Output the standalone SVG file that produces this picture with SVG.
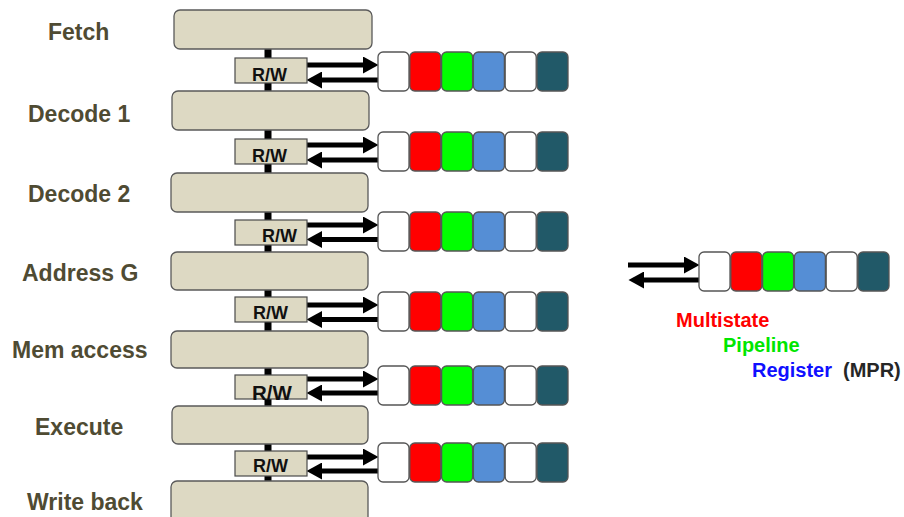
<svg xmlns="http://www.w3.org/2000/svg" width="904" height="517" viewBox="0 0 904 517">
<style>
.stage{fill:#DDD9C3;stroke:#5a5a5a;stroke-width:1.3}
.rw{fill:#DDD9C3;stroke:#4a4a4a;stroke-width:1.2}
.rwt{font-family:"Liberation Sans",Arial,sans-serif;font-weight:bold;font-size:18px;fill:#111}
.lbl{font-family:"Liberation Sans",Arial,sans-serif;font-weight:bold;font-size:23px;fill:#4F4B33}
.bar{fill:#000}
.c{stroke:#555;stroke-width:1.3}
.w{fill:#fff}.r{fill:#FF0000}.g{fill:#00FF00}.b{fill:#558ED5}.d{fill:#215968}
.arr{stroke:#000;stroke-width:5;fill:none;marker-end:url(#ah)}
.leg{font-family:"Liberation Sans",Arial,sans-serif;font-weight:bold;font-size:20px}
</style>
<defs>
<marker id="ah" markerUnits="userSpaceOnUse" markerWidth="16" markerHeight="17" refX="2" refY="8.5" orient="auto" viewBox="0 0 16 17">
<path d="M0,0 L15.5,8.5 L0,17 z" fill="#000"/>
</marker>
<g id="cells">
<rect class="c w" x="0" y="0" width="31" height="39" rx="5"/>
<rect class="c r" x="31.8" y="0" width="31" height="39" rx="5"/>
<rect class="c g" x="63.6" y="0" width="31" height="39" rx="5"/>
<rect class="c b" x="95.4" y="0" width="31" height="39" rx="5"/>
<rect class="c w" x="127.2" y="0" width="31" height="39" rx="5"/>
<rect class="c d" x="159" y="0" width="31" height="39" rx="5"/>
</g>
</defs>
<rect width="904" height="517" fill="#fff"/>

<g id="connectors">
<rect class="bar" x="264.5" y="49" width="7" height="42"/>
<rect class="bar" x="264.5" y="130" width="7" height="43"/>
<rect class="bar" x="264.5" y="212" width="7" height="40"/>
<rect class="bar" x="264.5" y="290" width="7" height="41"/>
<rect class="bar" x="264.5" y="368" width="7" height="38"/>
<rect class="bar" x="264.5" y="444" width="7" height="37"/>
<line class="arr" x1="307" y1="65" x2="365" y2="65"/>
<line class="arr" x1="378" y1="80" x2="320" y2="80"/>
<line class="arr" x1="307" y1="145" x2="365" y2="145"/>
<line class="arr" x1="378" y1="160" x2="320" y2="160"/>
<line class="arr" x1="307" y1="225" x2="365" y2="225"/>
<line class="arr" x1="378" y1="239.5" x2="320" y2="239.5"/>
<line class="arr" x1="307" y1="305" x2="365" y2="305"/>
<line class="arr" x1="378" y1="319.5" x2="320" y2="319.5"/>
<line class="arr" x1="307" y1="379" x2="365" y2="379"/>
<line class="arr" x1="378" y1="393" x2="320" y2="393"/>
<line class="arr" x1="307" y1="457" x2="365" y2="457"/>
<line class="arr" x1="378" y1="471" x2="320" y2="471"/>
<line class="arr" x1="628" y1="265" x2="686" y2="265"/>
<line class="arr" x1="699" y1="280" x2="642" y2="280"/>
</g>

<g id="stage-fetch"><rect class="stage" x="174" y="10" width="198" height="39" rx="6"/><text class="lbl" x="48" y="40">Fetch</text></g>
<g id="stage-decode1"><rect class="stage" x="172" y="91" width="197" height="39" rx="6"/><text class="lbl" x="28" y="122">Decode 1</text></g>
<g id="stage-decode2"><rect class="stage" x="171" y="173" width="197" height="39" rx="6"/><text class="lbl" x="28" y="202">Decode 2</text></g>
<g id="stage-addressg"><rect class="stage" x="171" y="252" width="197" height="38" rx="6"/><text class="lbl" x="22" y="281">Address G</text></g>
<g id="stage-memaccess"><rect class="stage" x="171" y="331" width="197" height="37" rx="6"/><text class="lbl" x="12" y="358">Mem access</text></g>
<g id="stage-execute"><rect class="stage" x="172" y="406" width="196" height="38" rx="6"/><text class="lbl" x="35" y="435">Execute</text></g>
<g id="stage-writeback"><rect class="stage" x="171" y="481" width="197" height="42" rx="6"/><text class="lbl" x="27" y="510">Write back</text></g>

<g id="rw1"><rect class="rw" x="235" y="58" width="72" height="25"/><text class="rwt" x="252" y="81">R/W</text></g>
<g id="rw2"><rect class="rw" x="235" y="139" width="72" height="25"/><text class="rwt" x="252" y="162">R/W</text></g>
<g id="rw3"><rect class="rw" x="235" y="220" width="72" height="25"/><text class="rwt" x="262" y="242">R/W</text></g>
<g id="rw4"><rect class="rw" x="235" y="297" width="72" height="25"/><text class="rwt" x="253" y="319">R/W</text></g>
<g id="rw5"><rect class="rw" x="235" y="375" width="72" height="24"/><text class="rwt" x="252" y="400" style="font-size:20.5px">R/W</text></g>
<g id="rw6"><rect class="rw" x="235" y="451" width="72" height="25"/><text class="rwt" x="253" y="472">R/W</text></g>

<g id="reg1"><use href="#cells" x="378" y="52"/></g>
<g id="reg2"><use href="#cells" x="378" y="132"/></g>
<g id="reg3"><use href="#cells" x="378" y="212"/></g>
<g id="reg4"><use href="#cells" x="378" y="292"/></g>
<g id="reg5"><use href="#cells" x="378" y="366"/></g>
<g id="reg6"><use href="#cells" x="378" y="443"/></g>

<g id="mpr"><use href="#cells" x="699" y="252"/></g>
<g id="legend">
<text class="leg" x="676" y="327" fill="#FF0000">Multistate</text>
<text class="leg" x="723" y="352" fill="#00E600">Pipeline</text>
<text class="leg" x="752" y="377" fill="#1010FF">Register</text>
<text class="leg" x="843" y="377" fill="#262626">(MPR)</text>
</g>
</svg>
